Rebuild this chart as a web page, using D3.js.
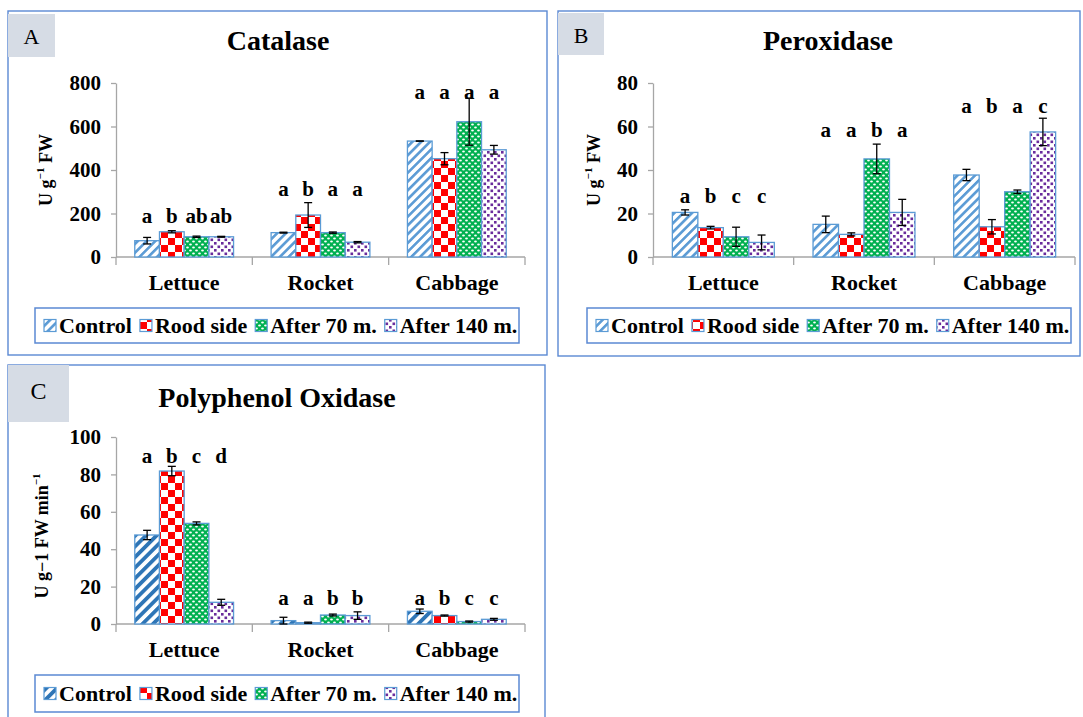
<!DOCTYPE html>
<html><head><meta charset="utf-8">
<script src="https://cdn.jsdelivr.net/npm/d3@7"></script>
<style>
body{margin:0;background:#fff}
svg{display:block}
text{font-family:"Liberation Serif","Times New Roman",serif}
</style>
</head><body>
<svg id="chart" width="1083" height="717"></svg>
<script>
// ---------- DATA ----------
const categories = ["Lettuce", "Rocket", "Cabbage"];
const seriesNames = ["Control", "Rood side", "After 70 m.", "After 140 m."];

// Catalase (U g-1 FW): rows = categories, columns = series
const catalaseMean = [[75, 116, 93, 93], [112, 193, 112, 68], [533, 452, 622, 493]];
const catalaseErr = [[15, 5, 3, 2], [2, 57, 3, 3], [0, 28, 108, 20]];
const catalaseLetters = [["a", "b", "ab", "ab"], ["a", "b", "a", "a"], ["a", "a", "a", "a"]];
const catalaseLetterLevel = [156, 280, 726];
const catalaseTicks = [0, 200, 400, 600, 800];

// Peroxidase (U g-1 FW)
const peroxidaseMean = [[20.5, 13.5, 9.3, 6.7], [15.0, 10.4, 45.1, 20.5], [37.7, 13.9, 30.0, 57.5]];
const peroxidaseErr = [[1.2, 0.6, 4.4, 3.4], [3.8, 0.7, 6.8, 6.0], [2.6, 3.3, 0.8, 6.3]];
const peroxidaseLetters = [["a", "b", "c", "c"], ["a", "a", "b", "a"], ["a", "b", "a", "c"]];
const peroxidaseLetterLevel = [24.7, 55, 66];
const peroxidaseTicks = [0, 20, 40, 60, 80];

// Polyphenol oxidase (U g-1 FW min-1)
const ppoMean = [[47.6, 81.8, 53.8, 11.6], [1.8, 0.7, 4.8, 4.5], [6.8, 4.5, 1.3, 2.5]];
const ppoErr = [[2.5, 2.5, 0.8, 1.6], [1.8, 0.3, 0.5, 2.0], [1.2, 0.3, 0.3, 0.5]];
const ppoLetters = [["a", "b", "c", "d"], ["a", "a", "b", "b"], ["a", "b", "c", "c"]];
const ppoLetterLevel = [86.3, 10.2, 10.2];
const ppoTicks = [0, 20, 40, 60, 80, 100];

// ---------- DRAWING ----------
const svg = d3.select("#chart");
const defs = svg.append("defs");

function stripePattern(id, color, period, w) {
  const p = defs.append("pattern").attr("id", id).attr("patternUnits", "userSpaceOnUse")
    .attr("width", period).attr("height", period).attr("patternTransform", "rotate(45)");
  p.append("rect").attr("width", period).attr("height", period).attr("fill", "#fff");
  p.append("rect").attr("width", w).attr("height", period).attr("fill", color);
}
stripePattern("ctrlLight", "#5b9bd5", 6.2, 2.6);
stripePattern("ctrlDark", "#2e75b6", 7.5, 3.8);

const ck = defs.append("pattern").attr("id", "checker").attr("patternUnits", "userSpaceOnUse")
  .attr("width", 14).attr("height", 14);
ck.append("rect").attr("width", 14).attr("height", 14).attr("fill", "#fff");
ck.append("rect").attr("width", 7).attr("height", 7).attr("fill", "#ff0000");
ck.append("rect").attr("x", 7).attr("y", 7).attr("width", 7).attr("height", 7).attr("fill", "#ff0000");

const gp = defs.append("pattern").attr("id", "greenDots").attr("patternUnits", "userSpaceOnUse")
  .attr("width", 6).attr("height", 6);
gp.append("rect").attr("width", 6).attr("height", 6).attr("fill", "#00b050");
gp.append("ellipse").attr("cx", 1.5).attr("cy", 1.5).attr("rx", 1.4).attr("ry", 0.9).attr("fill", "#fff");
gp.append("ellipse").attr("cx", 4.5).attr("cy", 4.5).attr("rx", 1.4).attr("ry", 0.9).attr("fill", "#fff");

const pp = defs.append("pattern").attr("id", "purpleDots").attr("patternUnits", "userSpaceOnUse")
  .attr("width", 7).attr("height", 7);
pp.append("rect").attr("width", 7).attr("height", 7).attr("fill", "#fff");
pp.append("rect").attr("x", 0.5).attr("y", 0.5).attr("width", 2.6).attr("height", 2.6).attr("fill", "#6a2c9c");
pp.append("rect").attr("x", 4).attr("y", 4).attr("width", 2.6).attr("height", 2.6).attr("fill", "#6a2c9c");

const BORDER = "#5b89d3";
const BAR_STROKE = "#5b9bd5";
const AXIS = "#a6a6a6";

function drawPanel(cfg) {
  const fills = [cfg.ctrl, "url(#checker)", "url(#greenDots)", "url(#purpleDots)"];
  const g = svg.append("g");
  // panel frame
  g.append("rect").attr("x", cfg.box[0]).attr("y", cfg.box[1]).attr("width", cfg.box[2]).attr("height", cfg.box[3])
    .attr("fill", "none").attr("stroke", BORDER).attr("stroke-width", 1.4);
  g.append("rect").attr("x", cfg.tag[0]).attr("y", cfg.tag[1]).attr("width", cfg.tag[2]).attr("height", cfg.tag[3])
    .attr("fill", "#d6dce5");
  g.append("text").attr("x", cfg.tag[0] + cfg.tag[2] / 2).attr("y", cfg.tagBase).attr("text-anchor", "middle")
    .attr("font-size", cfg.tagSize).text(cfg.tagText);
  // title
  g.append("text").attr("x", cfg.title[0]).attr("y", cfg.title[1]).attr("text-anchor", "middle")
    .attr("font-size", 28).attr("font-weight", "bold").text(cfg.titleText);

  const y = d3.scaleLinear().domain([0, d3.max(cfg.ticks)]).range([cfg.y0, cfg.y1]);
  const x = d3.scaleBand().domain(categories).range([cfg.x0, cfg.x1]);
  const xs = d3.scaleBand().domain(seriesNames).range([0, x.bandwidth()]).paddingInner(0).paddingOuter(0.76);

  // y axis
  const ya = g.append("g").attr("transform", `translate(${cfg.x0},0)`)
    .call(d3.axisLeft(y).tickValues(cfg.ticks).tickSize(5).tickSizeOuter(0).tickPadding(10).tickFormat(d3.format("d")));
  ya.select(".domain").attr("stroke", AXIS).attr("stroke-width", 1.3);
  ya.selectAll(".tick line").attr("stroke", AXIS).attr("stroke-width", 1.3);
  ya.selectAll(".tick text").attr("font-size", 21).attr("font-weight", "bold").attr("fill", "#000")
    .attr("font-family", "Liberation Serif");

  // x axis line with boundary ticks
  g.append("line").attr("x1", cfg.x0).attr("x2", cfg.x1).attr("y1", cfg.y0).attr("y2", cfg.y0)
    .attr("stroke", AXIS).attr("stroke-width", 1.3);
  const bounds = [cfg.x0].concat(categories.map(c => x(c) + x.bandwidth()));
  g.selectAll(".bt").data(bounds).join("line").attr("x1", d => d).attr("x2", d => d)
    .attr("y1", cfg.y0).attr("y2", cfg.y0 + 8).attr("stroke", AXIS).attr("stroke-width", 1.3);
  const xa = g.append("g").attr("transform", `translate(0,${cfg.y0})`)
    .call(d3.axisBottom(x).tickSize(0).tickPadding(17));
  xa.select(".domain").remove();
  xa.selectAll(".tick text").attr("font-size", 22).attr("font-weight", "bold").attr("fill", "#000")
    .attr("font-family", "Liberation Serif");

  // y label
  const yl = g.append("text").attr("transform", `translate(${cfg.ylab[0]},${cfg.ylab[1]}) rotate(-90)`)
    .attr("text-anchor", "middle").attr("dominant-baseline", "central")
    .attr("font-size", 18).attr("font-weight", "bold");
  cfg.ylabParts.forEach(p => {
    const t = yl.append("tspan").text(p[0]);
    if (p[1]) t.attr("baseline-shift", "super").attr("font-size", 11);
  });

  // bars
  categories.forEach((c, ci) => {
    seriesNames.forEach((s, si) => {
      const v = cfg.mean[ci][si], e = cfg.err[ci][si];
      const bx = x(c) + xs(s), bw = xs.bandwidth();
      g.append("rect").attr("x", bx).attr("y", y(v)).attr("width", bw).attr("height", y(0) - y(v))
        .attr("fill", fills[si]).attr("stroke", BAR_STROKE).attr("stroke-width", 1.3);
      const cx = bx + bw / 2;
      g.append("line").attr("x1", cx).attr("x2", cx).attr("y1", y(v + e)).attr("y2", y(Math.max(0, v - e)))
        .attr("stroke", "#000").attr("stroke-width", 1.3);
      [v + e, Math.max(0, v - e)].forEach(val => {
        g.append("line").attr("x1", cx - 4).attr("x2", cx + 4).attr("y1", y(val)).attr("y2", y(val))
          .attr("stroke", "#000").attr("stroke-width", 1.3);
      });
      g.append("text").attr("x", cx).attr("y", y(cfg.levels[ci])).attr("text-anchor", "middle")
        .attr("font-size", 21).attr("font-weight", "bold").text(cfg.letters[ci][si]);
    });
  });

  // legend
  const L = cfg.legend;
  g.append("rect").attr("x", L[0]).attr("y", L[1]).attr("width", L[2]).attr("height", L[3])
    .attr("fill", "#fff").attr("stroke", BORDER).attr("stroke-width", 1.5);
  let lx = L[0] + 9;
  const sy = L[1] + L[3] / 2 - 6;
  seriesNames.forEach((s, si) => {
    g.append("rect").attr("x", lx).attr("y", sy).attr("width", 12).attr("height", 12)
      .attr("fill", fills[si]).attr("stroke", BAR_STROKE).attr("stroke-width", 1.2);
    lx += 15;
    const t = g.append("text").attr("x", lx).attr("y", L[1] + L[3] / 2 + 7.5)
      .attr("font-size", 22).attr("font-weight", "bold").text(s);
    lx += t.node().getComputedTextLength() + 8;
  });
}

drawPanel({
  box: [8, 11, 539, 344], tag: [8, 14, 47, 43], tagBase: 44, tagSize: 22, tagText: "A",
  title: [278, 50], titleText: "Catalase",
  x0: 116, x1: 525, y0: 257, y1: 83, ticks: catalaseTicks,
  ylab: [46, 170], ylabParts: [["U g"], ["\u22121", true], [" FW"]],
  mean: catalaseMean, err: catalaseErr, letters: catalaseLetters, levels: catalaseLetterLevel,
  legend: [35, 308, 484, 35], ctrl: "url(#ctrlLight)"
});
drawPanel({
  box: [558, 11, 522, 345], tag: [558, 13, 46, 42], tagBase: 43, tagSize: 22, tagText: "B",
  title: [828, 50], titleText: "Peroxidase",
  x0: 653, x1: 1075, y0: 257, y1: 83, ticks: peroxidaseTicks,
  ylab: [594, 170], ylabParts: [["U g"], ["\u22121", true], [" FW"]],
  mean: peroxidaseMean, err: peroxidaseErr, letters: peroxidaseLetters, levels: peroxidaseLetterLevel,
  legend: [587, 308, 484, 35], ctrl: "url(#ctrlLight)"
});
drawPanel({
  box: [8, 365, 537, 380], tag: [8, 365, 61, 57], tagBase: 399, tagSize: 24, tagText: "C",
  title: [277, 407], titleText: "Polyphenol Oxidase",
  x0: 116, x1: 525, y0: 624, y1: 437, ticks: ppoTicks,
  ylab: [42, 536], ylabParts: [["U g\u22121 FW min"], ["\u22121", true]],
  mean: ppoMean, err: ppoErr, letters: ppoLetters, levels: ppoLetterLevel,
  legend: [35, 675, 484, 37], ctrl: "url(#ctrlDark)"
});
</script>
</body></html>
